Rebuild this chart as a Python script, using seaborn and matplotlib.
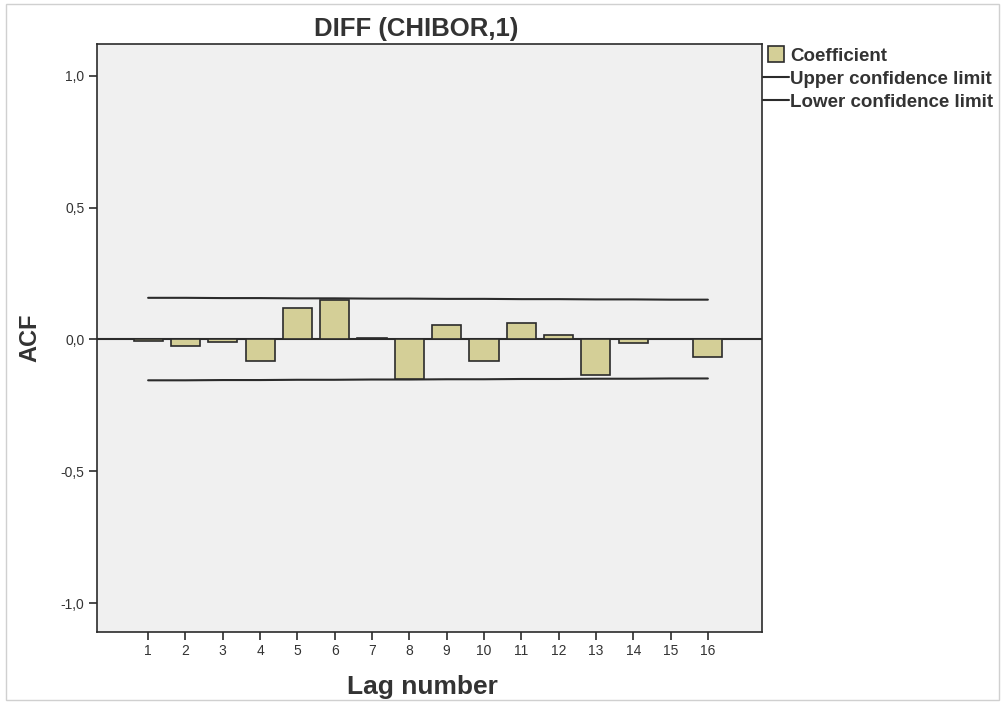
"""ACF plot of DIFF(CHIBOR,1) in SPSS style."""
import matplotlib
matplotlib.use("Agg")
import matplotlib.pyplot as plt
from matplotlib.lines import Line2D
from matplotlib.patches import Rectangle
import seaborn as sns

# -- Data ----------------------------------------------------------------------
lags = [1, 2, 3, 4, 5, 6, 7, 8, 9, 10, 11, 12, 13, 14, 15, 16]
acf = [-0.004, -0.023, -0.010, -0.080, 0.120, 0.151, 0.004, -0.149,
       0.056, -0.080, 0.062, 0.018, -0.134, -0.013, 0.002, -0.065]
upper = [0.158, 0.158, 0.157, 0.157, 0.156, 0.156, 0.155, 0.155,
         0.154, 0.154, 0.153, 0.153, 0.152, 0.152, 0.151, 0.151]
lower = [-0.155, -0.155, -0.154, -0.154, -0.153, -0.153, -0.152, -0.152,
         -0.151, -0.151, -0.150, -0.150, -0.149, -0.149, -0.148, -0.148]
yticks = [-1.0, -0.5, 0.0, 0.5, 1.0]
ytick_labels = ["-1,0", "-0,5", "0,0", "0,5", "1,0"]

BAR_COLOR = "#d4cf97"
EDGE = "#2b2b2b"
TEXT = "#333333"

sns.set_theme(style="white")
plt.rcParams["font.family"] = ["Liberation Sans", "DejaVu Sans"]

fig = plt.figure(figsize=(10.03, 7.03), dpi=100)
fig.patches.append(Rectangle((0.006, 0.004), 0.99, 0.99, transform=fig.transFigure,
                             fill=False, edgecolor="#d0d0d0", linewidth=1))
ax = fig.add_axes([0.0967, 0.101, 0.663, 0.836])
ax.set_facecolor("#f0f0f0")

sns.barplot(x=lags, y=acf, native_scale=True, width=0.78, color=BAR_COLOR,
            edgecolor=EDGE, linewidth=1.2, saturation=1, ax=ax, zorder=3)
ax.axhline(0, color=EDGE, linewidth=1.5, zorder=2)
ax.plot(lags, upper, color=EDGE, linewidth=1.5, zorder=2)
ax.plot(lags, lower, color=EDGE, linewidth=1.5, zorder=2)

ax.set_xlim(-0.37, 17.45)
ax.set_ylim(-1.11, 1.12)
ax.set_xticks(lags)
ax.set_xticklabels([str(v) for v in lags], fontsize=10, color=TEXT)
ax.set_yticks(yticks)
ax.set_yticklabels(ytick_labels, fontsize=10, color=TEXT)
ax.tick_params(axis="both", direction="out", length=6, width=1.2, color=EDGE,
               bottom=True, left=True, pad=3)
for sp in ax.spines.values():
    sp.set_color(EDGE)
    sp.set_linewidth(1.2)

ax.set_title("DIFF (CHIBOR,1)", fontsize=18.5, fontweight="bold", color=TEXT,
             pad=6, x=0.48)
ax.set_xlabel("Lag number", fontsize=19, fontweight="bold", color=TEXT)
ax.xaxis.set_label_coords(0.49, -0.073)
ax.set_ylabel("ACF", fontsize=17, fontweight="bold", color=TEXT, labelpad=14)

handles = [
    Line2D([0], [0], marker="s", linestyle="none", markersize=11,
           markerfacecolor=BAR_COLOR, markeredgecolor=EDGE, markeredgewidth=1.2,
           label="Coefficient"),
    Line2D([0], [0], color=EDGE, linewidth=1.5, label="Upper confidence limit"),
    Line2D([0], [0], color=EDGE, linewidth=1.5, label="Lower confidence limit"),
]
leg = ax.legend(handles=handles, loc="upper left", bbox_to_anchor=(1.0, 0.996),
                frameon=False, fontsize=13.5, handlelength=1.4,
                handletextpad=0.05, labelspacing=0.32, borderaxespad=0.05,
                borderpad=0.0)
for t in leg.get_texts():
    t.set_fontweight("bold")
    t.set_color(TEXT)

fig.savefig("out.png", dpi=100)
